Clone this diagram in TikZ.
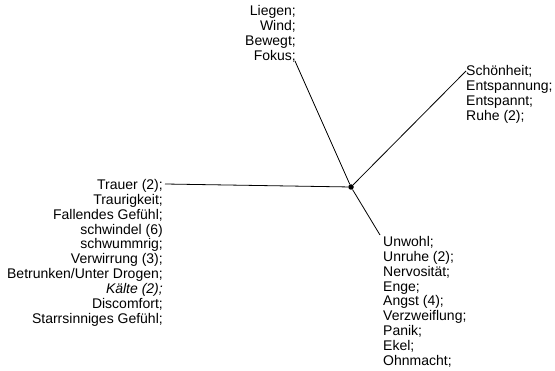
\documentclass[tikz,border=0pt]{standalone}
\usepackage{fontspec}
\setmainfont{Liberation Sans}
\begin{document}
\begin{tikzpicture}[x=1pt,y=1pt,
  lbl/.style={inner sep=0pt, font=\fontsize{14}{14.9}\selectfont},
  conn/.style={line width=0.8pt, black},
  hub/.style={circle, fill=black, inner sep=0pt, minimum size=5.5pt}]
\useasboundingbox (0,0) rectangle (555,370);
\node[hub] (c) at (351,183) {};
\node[lbl, align=right, anchor=north east] (top) at (296,365) {Liegen;\\Wind;\\Bewegt;\\Fokus;};
\node[lbl, align=left, anchor=north west] (rt) at (466,305) {Schönheit;\\Entspannung;\\Entspannt;\\Ruhe (2);};
\node[lbl, align=right, anchor=north east] (lt) at (163,191) {Trauer (2);\\Traurigkeit;\\Fallendes Gefühl;\\schwindel (6)\\schwummrig;\\Verwirrung (3);\\Betrunken/Unter Drogen;\\\textit{Kälte (2);}\\Discomfort;\\Starrsinniges Gefühl;};
\node[lbl, align=left, anchor=north west] (lr) at (383,134) {Unwohl;\\Unruhe (2);\\Nervosität;\\Enge;\\Angst (4);\\Verzweiflung;\\Panik;\\Ekel;\\Ohnmacht;};
\draw[conn] (c) -- ([xshift=-1pt,yshift=1pt]top.south east);
\draw[conn] (c) -- ([yshift=-6pt]rt.north west);
\draw[conn] (c) -- ([xshift=2pt,yshift=-5pt]lt.north east);
\draw[conn] (c) -- ([xshift=-3pt,yshift=1pt]lr.north west);
\end{tikzpicture}
\end{document}
